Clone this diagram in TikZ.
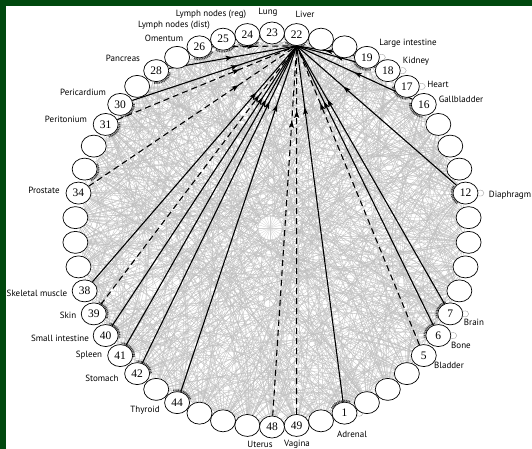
\documentclass[tikz,border=0pt]{standalone}
\usepackage{fontspec}
\setmainfont{Liberation Serif}
\newfontfamily\labfont{PT Sans}
\usetikzlibrary{arrows.meta,decorations.markings,shapes.geometric}
\pgfdeclarelayer{bottom}
\pgfdeclarelayer{bg}
\pgfsetlayers{bottom,bg,main}
\definecolor{framegreen}{RGB}{0,72,14}
\definecolor{gedgec}{RGB}{192,192,192}
\begin{document}
\begin{tikzpicture}[x=1pt,y=-1pt,
  ell/.style={ellipse, draw=black, line width=0.7pt, fill=white, minimum width=25pt, minimum height=22pt, inner sep=0pt, font=\fontsize{11.5}{11.5}\selectfont},
  lab/.style={font=\labfont\fontsize{9}{9}\selectfont, inner sep=0pt},
  gedge/.style={draw=gedgec, line width=0.3pt},
  gloop/.style={draw=gray!70, line width=0.4pt},
  smudge/.style={draw=gray!55!black, line width=1.8pt, dash pattern=on 1pt off 0.7pt},
  blk/.style={draw=black, line width=1.1pt},
  dsh/.style={blk, dash pattern=on 6pt off 4pt},
  arr/.style={postaction={decorate}, decoration={markings, mark=at position #1 with {\arrow{Stealth[length=7pt,width=5pt,inset=1.5pt]}}}},
]
\begin{pgfonlayer}{bottom}
\fill[framegreen] (0,0) rectangle (532,449);
\fill[white] (6,6) rectangle (532,449);
\end{pgfonlayer}
\useasboundingbox (0,0) rectangle (532,449);

% nodes on the circle
\foreach \k/\t in {1/1,2/,3/,4/,5/5,6/6,7/7,8/,9/,10/,11/,12/12,13/,14/,15/,16/16,17/17,18/18,19/19,20/,21/,22/22,23/23,24/24,25/25,26/26,27/,28/28,29/,30/30,31/31,32/,33/,34/34,35/,36/,37/,38/38,39/39,40/40,41/41,42/42,43/,44/44,45/,46/,47/,48/48,49/49,50/}{
  \pgfmathsetmacro\a{7.2*\k-75.6}
  \node[ell] (n\k) at ({272+197*cos(\a)},{230-197*sin(\a)}) {\t};
}

% labels
\node[lab] (t1)  at (352,434) {Adrenal};
\node[lab] (t5)  at (449,365) {Bladder};
\node[lab] (t6)  at (461,345) {Bone};
\node[lab] (t7)  at (474,322) {Brain};
\node[lab] (t12) at (510,195) {Diaphragm};
\node[lab] (t16) at (461,99)  {Gallbladder};
\node[lab] (t17) at (438,84)  {Heart};
\node[lab] (t18) at (416,61)  {Kidney};
\node[lab] (t19) at (408,43)  {Large intestine};
\node[lab] (t22) at (305,14)  {Liver};
\node[lab] (t23) at (268,12)  {Lung};
\node[lab] (t24) at (211,14)  {Lymph nodes (reg)};
\node[lab] (t25) at (174,25)  {Lymph nodes (dist)};
\node[lab] (t26) at (164,38)  {Omentum};
\node[lab] (t28) at (123,58)  {Pancreas};
\node[lab] (t30) at (83,92)   {Pericardium};
\node[lab] (t31) at (66,119)  {Peritonium};
\node[lab] (t34) at (44,190)  {Prostate};
\node[lab] (t38) at (37,293)  {Skeletal muscle};
\node[lab] (t39) at (68,315)  {Skin};
\node[lab] (t40) at (60,338)  {Small intestine};
\node[lab] (t41) at (89,355)  {Spleen};
\node[lab] (t42) at (102,378) {Stomach};
\node[lab] (t44) at (145,410) {Thyroid};
\node[lab] (t48) at (260,444) {Uterus};
\node[lab] (t49) at (297,444) {Vagina};

\begin{pgfonlayer}{bg}
  % dense grey network
  \pgfmathsetseed{7}
  \foreach \i in {1,...,50}{
    \foreach \r in {1,...,17}{
      \pgfmathtruncatemacro\d{2+int(rnd*23)}
      \pgfmathsetmacro\b{6+rnd*34}
      \pgfmathtruncatemacro\j{mod(\i+\d-1,50)+1}
      \draw[gedge] (n\i) to[bend left=\b] (n\j);
    }
  }
  % central wheel
  \coordinate (wc) at (270,228);
  \fill[white] (wc) circle (12);
  \foreach \s in {0,15,...,345}{\draw[gray!35,line width=0.3pt] (wc) -- ++(\s:12);}
  \draw[gray!45,line width=0.3pt] (wc) circle (12);
  % accumulated arrow heads of the grey network (inner side of busy nodes)
  \foreach \k in {1,6,7,12,16,17,19,22,24,25,26,28,30,31,33,39,40,41,42,44}{
    \pgfmathsetmacro\ta{-(7.2*\k-75.6+135)}
    \pgfmathsetmacro\tb{-(7.2*\k-75.6+225)}
    \draw[smudge] (n\k.center) ++({14*cos(\ta)},{12.5*sin(\ta)}) arc[start angle=\ta, end angle=\tb, x radius=14, y radius=12.5];
  }
  % small self loops
  \foreach \k in {1,6,7,12,17,18,19}{
    \draw[gloop] (n\k.12) to[out=15,in=-15,looseness=4] (n\k.-12);
  }
  % black edges into Liver (22)
  \draw[blk,arr=0.5]    (n28) -- (n22.south);
  \draw[blk,arr=-62pt]  (n30) -- (n22.south);
  \draw[blk,arr=-62pt]  (n38) -- (n22.south);
  \draw[blk,arr=-62pt]  (n40) -- (n22.south);
  \draw[blk,arr=-62pt]  (n41) -- (n22.south);
  \draw[blk,arr=-62pt]  (n42) -- (n22.south);
  \draw[blk,arr=-62pt]  (n44) -- (n22.south);
  \draw[blk,arr=-62pt]  (n1)  -- (n22.south);
  \draw[blk,arr=-62pt]  (n6)  -- (n22.south);
  \draw[blk,arr=-62pt]  (n7)  -- (n22.south);
  \draw[blk,arr=-62pt]  (n12) -- (n22.south);
  \draw[blk,arr=0.5]    (n16) -- (n22.south);
  \draw[blk,arr=0.5]    (n18) -- (n22.south);
  \draw[blk,arr=0.5]    (n19) -- (n22.south);
  \draw[dsh,arr=0.5]    (n26) -- (n22.south);
  \draw[dsh,arr=-62pt]  (n31) -- (n22.south);
  \draw[dsh,arr=-70pt]  (n34) -- (n22.south);
  \draw[dsh,arr=-62pt]  (n39) -- (n22.south);
  \draw[dsh,arr=-75pt]  (n48) -- (n22.south);
  \draw[dsh,arr=-65pt]  (n49) -- (n22.south);
  \draw[dsh,arr=-62pt]  (n5)  -- (n22.south);
\end{pgfonlayer}
\end{tikzpicture}
\end{document}
